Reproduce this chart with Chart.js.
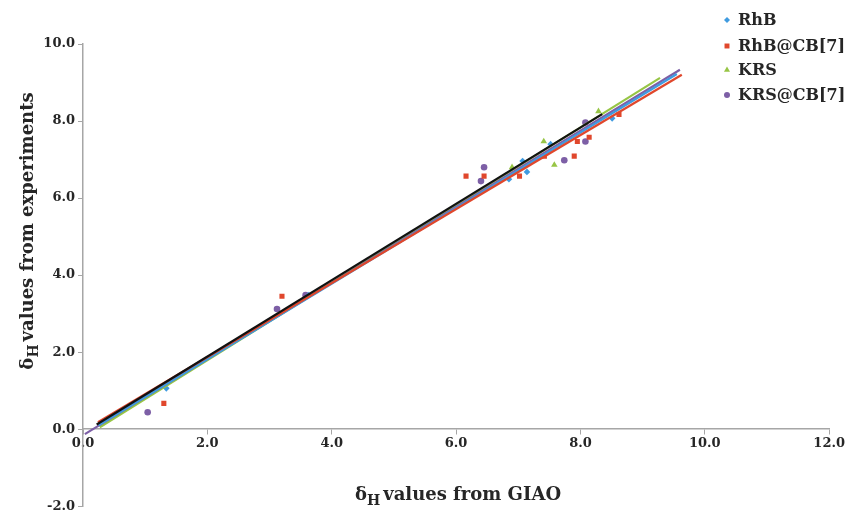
<!DOCTYPE html>
<html>
<head>
<meta charset="utf-8">
<script src="https://cdn.jsdelivr.net/npm/chart.js@4"></script>
<style>
  html, body { margin: 0; padding: 0; background: #fff; }
  #wrap { width: 847px; height: 517px; position: relative; }
</style>
</head>
<body>
<div id="wrap"><canvas id="chart"></canvas></div>
<script>
// Series names
const seriesNames = ['RhB', 'RhB@CB[7]', 'KRS', 'KRS@CB[7]'];

// Measured points (GIAO x, experiment y)
const rhbX = [1.34, 3.63, 6.85, 7.07, 7.14, 7.52, 8.51];
const rhbY = [1.06, 3.48, 6.49, 6.96, 6.68, 7.40, 8.07];
const rhbCbX = [1.30, 3.20, 6.16, 6.45, 7.02, 7.42, 7.90, 7.95, 8.14, 8.62];
const rhbCbY = [0.67, 3.45, 6.57, 6.57, 6.57, 7.09, 7.09, 7.47, 7.58, 8.17];
const krsX = [6.90, 7.41, 7.58, 8.29];
const krsY = [6.80, 7.47, 6.86, 8.25];
const krsCbX = [1.04, 3.12, 3.58, 6.40, 6.45, 7.74, 8.08, 8.08];
const krsCbY = [0.44, 3.12, 3.48, 6.44, 6.80, 6.98, 7.47, 7.96];

// Trendline end points [start, end]
const rhbFitX = [0.25, 9.55];
const rhbFitY = [0.10, 9.22];
const rhbCbFitX = [0.24, 9.63];
const rhbCbFitY = [0.18, 9.20];
const krsFitX = [0.27, 9.28];
const krsFitY = [0.05, 9.12];
const krsCbFitX = [0.03, 9.60];
const krsCbFitY = [-0.13, 9.33];
const refFitX = [0.22, 8.35];
const refFitY = [0.12, 8.18];

const xTicks = [0, 2, 4, 6, 8, 10, 12];
const yTicks = [-2, 0, 2, 4, 6, 8, 10];

const colors = {
    blue: '#3f9be0',
    red: '#e0472c',
    green: '#97c545',
    purple: '#7d5fa6',
    black: '#111111',
    axis: '#a6a6a6',
    text: '#262626'
};

const FONT = "'DejaVu Serif', 'Liberation Serif', serif";

function pts(xs, ys) {
    return xs.map((x, i) => ({ x: x, y: ys[i] }));
}

function fitLine(xs, ys, color) {
    return {
        type: 'line',
        data: pts(xs, ys),
        borderColor: color,
        borderWidth: 2.2,
        pointRadius: 0,
        fill: false
    };
}

function scatterSet(label, xs, ys, color, style, radius) {
    return {
        type: 'scatter',
        label: label,
        data: pts(xs, ys),
        backgroundColor: color,
        borderColor: color,
        pointStyle: style,
        pointRadius: radius,
        borderWidth: 0
    };
}

const datasets = [
    fitLine(refFitX, refFitY, colors.black),
    fitLine(rhbCbFitX, rhbCbFitY, colors.red),
    fitLine(rhbFitX, rhbFitY, colors.blue),
    fitLine(krsCbFitX, krsCbFitY, colors.purple),
    fitLine(krsFitX, krsFitY, colors.green),
    scatterSet(seriesNames[0], rhbX, rhbY, colors.blue, 'rectRot', 3.3),
    scatterSet(seriesNames[1], rhbCbX, rhbCbY, colors.red, 'rect', 3.6),
    scatterSet(seriesNames[2], krsX, krsY, colors.green, 'triangle', 3.8),
    scatterSet(seriesNames[3], krsCbX, krsCbY, colors.purple, 'circle', 3.3)
];

// Axis titles with subscript H, plus legend at top right
const decorations = {
    id: 'decorations',
    afterDraw(chart) {
        const ctx = chart.ctx;
        ctx.save();
        ctx.fillStyle = colors.text;
        ctx.textBaseline = 'alphabetic';

        function drawTitle(rest) {
            ctx.font = 'bold 18px ' + FONT;
            const wD = ctx.measureText('\u03b4').width;
            ctx.font = 'bold 14px ' + FONT;
            const wH = ctx.measureText('H').width;
            ctx.font = 'bold 18px ' + FONT;
            const wR = ctx.measureText(rest).width;
            const total = wD + wH + 3 + wR;
            let x = -total / 2;
            ctx.textAlign = 'left';
            ctx.fillText('\u03b4', x, 0);
            x += wD;
            ctx.font = 'bold 14px ' + FONT;
            ctx.fillText('H', x, 5);
            x += wH + 3;
            ctx.font = 'bold 18px ' + FONT;
            ctx.fillText(rest, x, 0);
        }

        // x title
        ctx.save();
        ctx.translate(458, 500);
        drawTitle('values from GIAO');
        ctx.restore();

        // y title
        ctx.save();
        ctx.translate(33, 231);
        ctx.rotate(-Math.PI / 2);
        drawTitle('values from experiments');
        ctx.restore();

        // legend
        const legendY = [20, 46, 70, 95];
        const markers = [
            { c: colors.blue, s: 'rectRot', r: 3 },
            { c: colors.red, s: 'rect', r: 3.5 },
            { c: colors.green, s: 'triangle', r: 3.5 },
            { c: colors.purple, s: 'circle', r: 3 }
        ];
        ctx.font = 'bold 16px ' + FONT;
        ctx.textAlign = 'left';
        ctx.textBaseline = 'middle';
        seriesNames.forEach((name, i) => {
            ctx.fillStyle = markers[i].c;
            ctx.strokeStyle = markers[i].c;
            Chart.helpers.drawPoint(ctx, { pointStyle: markers[i].s, radius: markers[i].r, rotation: 0, borderWidth: 0 }, 727, legendY[i]);
            ctx.fillStyle = colors.text;
            ctx.fillText(name, 738, legendY[i] + 1);
        });
        ctx.restore();
    }
};

new Chart(document.getElementById('chart'), {
    data: { datasets: datasets },
    options: {
        responsive: true,
        maintainAspectRatio: false,
        animation: false,
        layout: { padding: { top: 44, bottom: 7, left: 0, right: 14 } },
        plugins: {
            legend: { display: false },
            tooltip: { enabled: false }
        },
        scales: {
            x: {
                type: 'linear',
                position: { y: 0 },
                min: 0,
                max: 12,
                afterBuildTicks: (scale) => { scale.ticks = xTicks.map(v => ({ value: v })); },
                ticks: {
                    color: colors.text,
                    font: { family: FONT, size: 13, weight: 'bold' },
                    padding: 2,
                    maxRotation: 0,
                    callback: (v) => v.toFixed(1)
                },
                grid: { drawOnChartArea: false, drawTicks: true, tickLength: 5, color: colors.axis },
                border: { color: colors.axis, width: 1.5 }
            },
            y: {
                type: 'linear',
                position: 'left',
                min: -2,
                max: 10,
                afterBuildTicks: (scale) => { scale.ticks = yTicks.map(v => ({ value: v })); },
                afterFit: (scale) => { scale.width = 83; },
                ticks: {
                    color: colors.text,
                    font: { family: FONT, size: 13, weight: 'bold' },
                    padding: 3,
                    callback: (v) => v.toFixed(1)
                },
                grid: { drawOnChartArea: false, drawTicks: true, tickLength: 5, color: colors.axis },
                border: { color: colors.axis, width: 1.5 }
            }
        }
    },
    plugins: [decorations]
});
</script>
</body>
</html>
